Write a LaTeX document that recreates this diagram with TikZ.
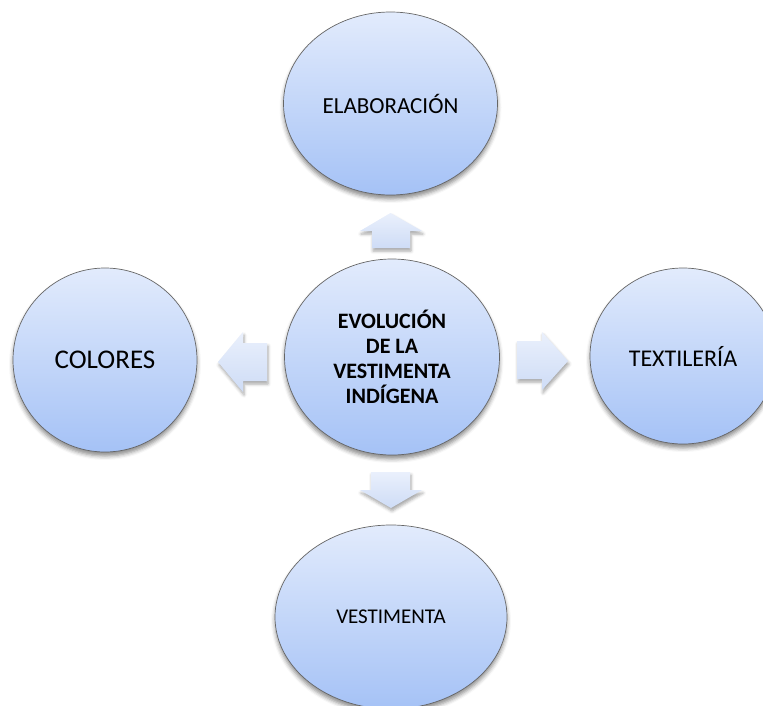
\documentclass[tikz,border=0pt]{standalone}
\usepackage{fontspec}
\setmainfont{Carlito}
\usetikzlibrary{shapes.geometric,shadows.blur}
\definecolor{bubtop}{HTML}{E2EBFC}
\definecolor{bubbot}{HTML}{A5C2F6}
\definecolor{arrtop}{HTML}{EAF0FC}
\definecolor{arrbot}{HTML}{CEDCF6}
\begin{document}
\begin{tikzpicture}[x=1pt,y=-1pt,
  bubble/.style={ellipse, draw=black!60, line width=0.7pt, top color=bubtop, bottom color=bubbot,
    inner sep=0pt, align=center, text=black,
    blur shadow={shadow xshift=0pt, shadow yshift=-4pt, shadow blur radius=4pt, shadow opacity=45}},
  blockarr/.style={top color=arrtop, bottom color=arrbot,
    blur shadow={shadow xshift=1pt, shadow yshift=-3pt, shadow blur radius=3pt, shadow opacity=35}}]
\useasboundingbox (0,0) rectangle (763,706);
% bubbles
\node[bubble, minimum width=214pt, minimum height=183pt, font=\fontsize{23}{27}\selectfont] (top) at (390.5,103.5) {ELABORACIÓN};
\node[bubble, minimum width=215pt, minimum height=196pt, font=\bfseries\fontsize{22}{25}\selectfont] (ctr) at (392,357) {EVOLUCIÓN\\DE LA\\VESTIMENTA\\INDÍGENA};
\node[bubble, minimum width=184pt, minimum height=184pt, font=\fontsize{27}{30}\selectfont] (lft) at (105,360) {COLORES};
\node[bubble, minimum width=186pt, minimum height=176pt, font=\fontsize{24}{28}\selectfont] (rgt) at (683,356) {TEXTILERÍA};
\node[bubble, minimum width=232pt, minimum height=184pt, font=\fontsize{21}{25}\selectfont] (bot) at (391,617) {VESTIMENTA};
% block arrows
\path[blockarr] (390.5,213) -- (422,231) -- (410,231) -- (410,248) -- (372,248) -- (372,231) -- (360,231) -- cycle;
\path[blockarr] (391,508) -- (360,490) -- (371,490) -- (371,472) -- (410,472) -- (410,490) -- (422,490) -- cycle;
\path[blockarr] (218,362) -- (243,332) -- (243,343) -- (267,343) -- (267,381) -- (243,381) -- (243,392) -- cycle;
\path[blockarr] (568,361) -- (542,332) -- (542,341) -- (517,341) -- (517,379) -- (542,379) -- (542,390) -- cycle;
\end{tikzpicture}
\end{document}
